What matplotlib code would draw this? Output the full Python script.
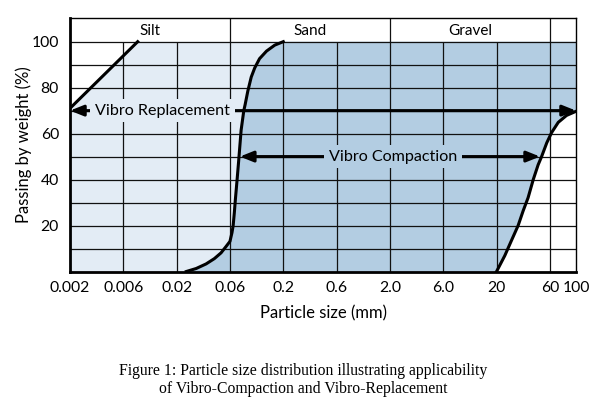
import numpy as np
import matplotlib.pyplot as plt

plt.rcParams['font.family'] = ['Lato', 'DejaVu Sans']

# particle size axis (mm) - the grading sheet spaces these ticks evenly
size_ticks = [0.002, 0.006, 0.02, 0.06, 0.2, 0.6, 2, 6, 20, 60, 100]
size_labels = ['0.002', '0.006', '0.02', '0.06', '0.2', '0.6', '2.0', '6.0', '20', '60', '100']
tick_pos = [0, 1, 2, 3, 4, 5, 6, 7, 8, 9, 9.49]
pass_ticks = [20, 40, 60, 80, 100]

# soil classes across the top band
zones = ['Silt', 'Sand', 'Gravel']
zone_edges = [0.002, 0.06, 2, 60]

# grading limit curves (size mm, % passing)
silt_x = [0.002, 0.0083]
silt_y = [71, 100]

sand_x = [0.0244, 0.0299, 0.0367, 0.0435, 0.0499, 0.0552, 0.0600, 0.0628, 0.0645, 0.0662,
          0.0678, 0.0705, 0.0730, 0.0772, 0.0820, 0.0845, 0.0898, 0.097, 0.105, 0.117,
          0.137, 0.165, 0.2]
sand_y = [0, 1.3, 3.3, 5.6, 8.1, 10.8, 13.1, 16.9, 20, 25.5,
          31.3, 40, 48, 61.5, 70, 72.6, 78.5, 84.6, 88.6, 92.6,
          95.9, 98.5, 100]

gravel_x = [20, 23.7, 27.2, 31.2, 34.6, 38.3, 42.6, 47.1, 50.6, 56.3, 62.0, 70.7, 83.1, 100]
gravel_y = [0, 6.9, 13.5, 20, 26.4, 32.1, 40, 46.4, 50, 56, 60.4, 64.9, 67.9, 69.7]

# application ranges
repl_x = [0.002, 100]
repl_y = 70
repl_label_x = 0.0146
comp_x = [0.075, 49]
comp_y = 50
comp_label_x = 2.14

LIGHT = '#e3ecf5'
DARK = '#b3cde2'

LOG_T = np.log10(size_ticks)


def fwd(x):
    return np.interp(np.log10(np.clip(x, 1e-6, None)), LOG_T, tick_pos)


def inv(p):
    return 10 ** np.interp(p, tick_pos, LOG_T)


fig = plt.figure(figsize=(6.14, 3.99), dpi=100)
ax = fig.add_axes([70 / 614, 1 - 271.5 / 399, 506 / 614, 253.5 / 399])
ax.set_xscale('function', functions=(fwd, inv))
ax.set_xlim(size_ticks[0], size_ticks[-1])
ax.set_ylim(0, 110.3)

# shaded ranges
light_x = [size_ticks[0]] + silt_x + sand_x[::-1]
light_y = [0] + silt_y + sand_y[::-1]
ax.fill(light_x, light_y, color=LIGHT, lw=0, zorder=0)
dark_x = sand_x + [size_ticks[-1]] + gravel_x[::-1]
dark_y = sand_y + [100] + gravel_y[::-1]
ax.fill(dark_x, dark_y, color=DARK, lw=0, zorder=0)

# grid of the sheet
ax.hlines(range(10, 101, 10), size_ticks[0], size_ticks[-1], color='#111111', lw=0.9, zorder=1)
ax.vlines(size_ticks[1:-1], 0, 100, color='#111111', lw=0.9, zorder=1)
ax.vlines(zone_edges[1:], 100, 110.3, color='#111111', lw=0.9, zorder=1)
for name, a, b in zip(zones, zone_edges[:-1], zone_edges[1:]):
    xc = inv((fwd(a) + fwd(b)) / 2)
    ax.text(xc, 104.6, name, ha='center', va='center', fontsize=11)

# curves
for xs, ys in [(silt_x, silt_y), (sand_x, sand_y), (gravel_x, gravel_y)]:
    ax.plot(xs, ys, color='black', lw=2.2, zorder=3, solid_joinstyle='round')

# arrows
arrow = dict(arrowstyle='<|-|>,head_length=0.8,head_width=0.32', color='black', lw=2.2,
             shrinkA=0, shrinkB=0)
ax.annotate('', xy=(repl_x[1], repl_y), xytext=(repl_x[0], repl_y), arrowprops=arrow, zorder=3)
ax.annotate('', xy=(comp_x[1], comp_y), xytext=(comp_x[0], comp_y), arrowprops=arrow, zorder=3)
ax.text(repl_label_x, repl_y, 'Vibro Replacement', ha='center', va='center', fontsize=11.6,
        bbox=dict(facecolor=LIGHT, edgecolor='none', pad=3.5), zorder=4)
ax.text(comp_label_x, comp_y, 'Vibro Compaction', ha='center', va='center', fontsize=11.6,
        bbox=dict(facecolor=DARK, edgecolor='none', pad=3.5), zorder=4)

ax.set_xticks(size_ticks, size_labels)
ax.set_yticks(pass_ticks)
ax.minorticks_off()
ax.tick_params(length=0, labelsize=11.3)
ax.tick_params(axis='x', pad=7)
ax.tick_params(axis='y', pad=8)
for side in ['left', 'bottom']:
    ax.spines[side].set_linewidth(2.0)
for side in ['top', 'right']:
    ax.spines[side].set_linewidth(1.0)

ax.set_xlabel('Particle size (mm)', fontsize=12, labelpad=7)
ax.set_ylabel('Passing by weight (%)', fontsize=12, labelpad=0)

fig.text(0.494, 0.047, 'Figure 1: Particle size distribution illustrating applicability\n'
         'of Vibro-Compaction and Vibro-Replacement', ha='center', va='center',
         family='Liberation Serif', fontsize=11.3, linespacing=1.15)

fig.savefig('out.png', dpi=100)
